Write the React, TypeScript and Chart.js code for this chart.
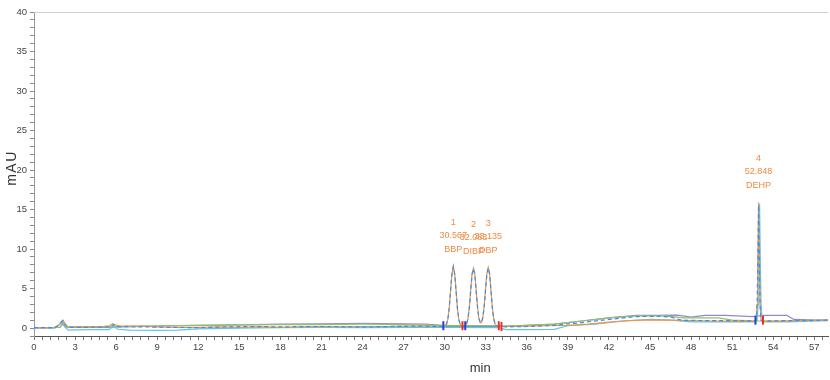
import React, { useEffect, useRef } from 'react';
import { Chart, registerables } from 'chart.js';

Chart.register(...registerables);

// Chromatogram traces: [minute, mAU]
const orangeTrace: [number, number][] = [
  [0, 0.05], [1.4, 0.05], [1.8, 0.35], [2.0, 0.85], [2.12, 1.0], [2.25, 0.6], [2.45, 0.15], [3, 0.2], [4, 0.2], [5, 0.2],
  [5.5, 0.3], [5.75, 0.55], [5.95, 0.4], [6.3, 0.25], [7, 0.25], [8, 0.25], [9, 0.15], [10.5, 0.1], [12, 0.1], [13.5, 0.15],
  [15, 0.1], [16.5, 0.15], [18, 0.1], [19.5, 0.15], [21, 0.2], [22.5, 0.15], [24, 0.2], [25.5, 0.2], [27, 0.25], [28.5, 0.25],
  [29.9, 0.2], [30.03, 0.25], [30.13, 0.5], [30.23, 1.1], [30.33, 2.5], [30.43, 4.8], [30.53, 6.9], [30.63, 7.85], [30.73, 6.9],
  [30.83, 4.8], [30.93, 2.5], [31.03, 1.1], [31.13, 0.5], [31.25, 0.25], [31.4, 0.2], [31.5, 0.3], [31.6, 0.5], [31.7, 1.2],
  [31.8, 2.6], [31.9, 4.8], [32.0, 6.9], [32.1, 7.6], [32.2, 6.9], [32.3, 4.8], [32.4, 2.6], [32.5, 1.2], [32.6, 0.7],
  [32.68, 0.7], [32.78, 1.3], [32.88, 2.6], [32.98, 4.8], [33.08, 6.9], [33.18, 7.7], [33.28, 6.9], [33.38, 4.8], [33.48, 2.6],
  [33.58, 1.2], [33.68, 0.5], [33.8, 0.3], [33.95, 0.2], [34.5, 0.2], [36, 0.25], [37.5, 0.3], [39, 0.35], [40.5, 0.5],
  [42, 0.75], [43.5, 0.95], [45, 1.05], [46.5, 1.0], [48, 0.95], [49.5, 0.9], [51, 0.85], [52.68, 0.85], [52.75, 1.0],
  [52.82, 3], [52.87, 8], [52.93, 15.9], [52.99, 8], [53.04, 3], [53.11, 1.0], [53.2, 0.85], [54.5, 0.85], [56, 0.95],
  [58, 1.0],
];

const blueTrace: [number, number][] = [
  [0, 0.05], [1.5, 0.05], [1.85, 0.4], [2.1, 0.95], [2.3, 0.4], [2.5, 0.1], [4, 0.1], [5.6, 0.15], [5.8, 0.45], [6.0, 0.2],
  [8, 0.15], [10, 0.1], [12, 0.05], [14, 0.15], [16, 0.2], [18, 0.15], [20, 0.2], [22, 0.2], [24, 0.15], [26, 0.2], [28, 0.25],
  [29.9, 0.2], [30.03, 0.25], [30.13, 0.5], [30.23, 1.1], [30.33, 2.5], [30.43, 4.7], [30.53, 6.8], [30.63, 7.75], [30.73, 6.8],
  [30.83, 4.7], [30.93, 2.5], [31.03, 1.1], [31.13, 0.5], [31.25, 0.25], [31.4, 0.2], [31.5, 0.3], [31.6, 0.5], [31.7, 1.2],
  [31.8, 2.6], [31.9, 4.7], [32.0, 6.8], [32.1, 7.5], [32.2, 6.8], [32.3, 4.7], [32.4, 2.6], [32.5, 1.2], [32.6, 0.7],
  [32.68, 0.7], [32.78, 1.3], [32.88, 2.6], [32.98, 4.7], [33.08, 6.8], [33.18, 7.6], [33.28, 6.8], [33.38, 4.7], [33.48, 2.6],
  [33.58, 1.2], [33.68, 0.5], [33.8, 0.3], [33.95, 0.2], [34.5, 0.15], [36, 0.2], [38, 0.35], [40, 0.7], [42, 1.1],
  [44, 1.45], [45.5, 1.5], [46.5, 1.4], [47.3, 1.0], [49, 0.95], [51, 0.95], [52.68, 0.9], [52.75, 1.0], [52.82, 2.9],
  [52.87, 7.8], [52.93, 15.5], [52.99, 7.8], [53.04, 2.9], [53.11, 1.0], [53.2, 0.9], [55, 0.95], [58, 1.0],
];

const cyanTrace: [number, number][] = [
  [0, 0], [1.5, 0], [1.9, 0.5], [2.1, 0.85], [2.3, 0.1], [2.5, -0.25], [4, -0.2], [5.5, -0.2], [5.8, 0.3], [6.1, -0.15],
  [7, -0.25], [9, -0.3], [10.5, -0.25], [12, -0.1], [15, 0], [18, 0.05], [21, 0.1], [24, 0.05], [27, 0.1], [29.8, 0.1],
  [33.9, 0.05], [34.5, -0.2], [36, -0.2], [38, -0.15], [39, 0.3], [41, 0.5], [43, 0.9], [45, 1.1], [46.5, 1.0], [48, 0.8],
  [50, 0.8], [52.75, 0.8], [52.82, 1.0], [52.89, 3], [52.94, 8], [53.0, 15.7], [53.06, 8], [53.11, 3], [53.18, 1.0],
  [53.26, 0.8], [55, 0.8], [58, 0.95],
];

const purpleTrace: [number, number][] = [
  [0, 0.05], [1.9, 0.1], [2.1, 0.6], [2.3, 0.1], [5, 0.1], [8, 0.2], [10, 0.3], [12, 0.35], [15, 0.4], [18, 0.5], [21, 0.55],
  [24, 0.6], [27, 0.55], [28.5, 0.5], [29.8, 0.35], [34, 0.2], [36, 0.35], [38, 0.5], [40, 0.9], [42, 1.3], [44, 1.6],
  [45.5, 1.6], [47, 1.65], [48, 1.4], [49, 1.6], [50.5, 1.6], [52.5, 1.45], [53.3, 1.6], [55, 1.6], [55.5, 1.1], [57, 1.0],
  [58, 1.0],
];

const greenTrace: [number, number][] = [
  [0, 0.05], [1.9, 0.1], [2.1, 0.5], [2.3, 0.1], [5, 0.15], [9, 0.3], [12, 0.35], [15, 0.4], [18, 0.45], [21, 0.45],
  [24, 0.5], [27, 0.45], [29.5, 0.35], [34, 0.25], [36, 0.35], [38, 0.5], [40, 0.9], [42, 1.3], [44, 1.55], [46, 1.55],
  [47.5, 1.3], [50, 1.3], [51, 1.0], [53, 0.9], [55, 0.9], [58, 1.0],
];

const integrationBaseline: [number, number][] = [[29.9, 0.2], [34.1, 0.25]];
const peakStartMarks: [number, number][] = [[29.9, 0.3], [31.5, 0.3], [52.7, 1.0]];
const peakEndMarks: [number, number][] = [[31.3, 0.3], [33.95, 0.3], [34.15, 0.2], [53.25, 1.0]];

// Peak annotations
const peakNumbers = ['1', '2', '3', '4'];
const peakRetentionLabels = ['30.567', '32.083', '33.135', '52.848'];
const peakNames = ['BBP', 'DIBP', 'DBP', 'DEHP'];
const peakApexTimes = [30.63, 32.1, 33.18, 52.93];
const peakApexHeights = [7.85, 7.6, 7.7, 15.9];

// Axes
const xMin = 0;
const xMax = 58;
const xMinorStep = 0.6;
const xLabelEvery = 3;
const yMin = -1;
const yMax = 40;
const yMinorStep = 1;
const yLabelEvery = 5;
const xTitle = 'min';
const yTitle = 'mAU';

const FONT = "'Liberation Sans Narrow', 'Liberation Sans', sans-serif";

const toXY = (arr: [number, number][]) => arr.map(([x, y]) => ({ x, y }));
const isMultiple = (v: number, m: number) => Math.abs(v / m - Math.round(v / m)) < 1e-6;

const decorations = {
  id: 'decorations',
  afterDraw(chart: any) {
    const { ctx, chartArea, scales } = chart;
    const xs = scales.x;
    const ys = scales.y;
    ctx.save();
    // top frame line
    ctx.strokeStyle = '#cfcfcf';
    ctx.lineWidth = 1;
    ctx.beginPath();
    ctx.moveTo(chartArea.left, Math.round(chartArea.top) + 0.5);
    ctx.lineTo(chartArea.right, Math.round(chartArea.top) + 0.5);
    ctx.stroke();

    // peak labels
    ctx.fillStyle = '#EE8A42';
    ctx.font = `9px ${FONT}`;
    ctx.textAlign = 'center';
    ctx.textBaseline = 'middle';
    peakApexTimes.forEach((t, i) => {
      const px = xs.getPixelForValue(t);
      const py = ys.getPixelForValue(peakApexHeights[i]);
      ctx.fillText(peakNames[i], px, py - 17);
      ctx.fillText(peakRetentionLabels[i], px, py - 30.5);
      ctx.fillText(peakNumbers[i], px, py - 44);
    });

    // axis titles
    ctx.fillStyle = '#333';
    ctx.font = `13px 'Liberation Sans', sans-serif`;
    ctx.fillText(xTitle, chartArea.left + (chartArea.right - chartArea.left) * 0.562, chart.height - 12);
    ctx.font = `14px 'Liberation Sans', sans-serif`;
    try { (ctx as any).letterSpacing = '1.5px'; } catch (e) { /* ignore */ }
    ctx.translate(12, (chartArea.top + chartArea.bottom) / 2 - 6);
    ctx.rotate(-Math.PI / 2);
    ctx.fillText(yTitle, 0, 0);
    try { (ctx as any).letterSpacing = '0px'; } catch (e) { /* ignore */ }
    ctx.restore();
  },
};

export default function App() {
  const canvasRef = useRef<HTMLCanvasElement | null>(null);

  useEffect(() => {
    if (!canvasRef.current) return;
    const line = (data: [number, number][], color: string, extra: any = {}) => ({
      type: 'line',
      data: toXY(data),
      borderColor: color,
      backgroundColor: color,
      borderWidth: 1.2,
      pointRadius: 0,
      tension: 0,
      fill: false,
      ...extra,
    });
    const marks = (data: [number, number][], color: string) => ({
      type: 'line',
      data: toXY(data),
      showLine: false,
      pointStyle: 'line',
      rotation: 90,
      pointRadius: 4.5,
      borderColor: color,
      backgroundColor: color,
      pointBorderWidth: 2,
      borderWidth: 2,
    });

    const chart = new Chart(canvasRef.current, {
      type: 'line',
      data: {
        datasets: [
          marks(peakStartMarks, '#2A3FD8'),
          marks(peakEndMarks, '#E8322B'),
          line(blueTrace, '#3B8FE8', { borderDash: [4, 3] }),
          line(orangeTrace, '#F39545'),
          line(cyanTrace, '#5CC6EA'),
          line(integrationBaseline, '#8C8C8C'),
          line(greenTrace, '#8DC26F'),
          line(purpleTrace, '#9C86C4'),
        ] as any,
      },
      options: {
        animation: false,
        responsive: false,
        maintainAspectRatio: false,
        events: [],
        layout: { autoPadding: false, padding: { top: 12, right: 2, left: 0, bottom: 0 } },
        plugins: { legend: { display: false }, tooltip: { enabled: false } },
        scales: {
          x: {
            type: 'linear',
            min: xMin,
            max: xMax,
            afterFit: (s: any) => { s.height = 44; s.paddingRight = 0; s.paddingLeft = 0; },
            border: { color: '#555', width: 1 },
            grid: { drawOnChartArea: false, drawTicks: true, tickLength: 4, tickColor: '#777' },
            ticks: {
              stepSize: xMinorStep,
              includeBounds: false,
              autoSkip: false,
              maxRotation: 0,
              padding: 2,
              color: '#444',
              font: { family: FONT, size: 9.5 },
              callback: (v: any) => (isMultiple(Number(v), xLabelEvery) ? String(Math.round(Number(v))) : ''),
            },
          },
          y: {
            type: 'linear',
            min: yMin,
            max: yMax,
            afterFit: (s: any) => { s.width = 34; },
            border: { color: '#999', width: 1 },
            grid: { drawOnChartArea: false, drawTicks: true, tickLength: 4, tickColor: '#888' },
            ticks: {
              stepSize: yMinorStep,
              includeBounds: false,
              autoSkip: false,
              padding: 3,
              color: '#444',
              font: { family: FONT, size: 9.5 },
              callback: (v: any) => (Number(v) >= 0 && isMultiple(Number(v), yLabelEvery) ? String(Math.round(Number(v))) : ''),
            },
          },
        },
      },
      plugins: [decorations],
    } as any);
    return () => chart.destroy();
  }, []);

  return (
    <div style={{ position: 'fixed', left: 0, top: 0, width: 830, height: 380, background: '#fff' }}>
      <canvas ref={canvasRef} width={830} height={380} style={{ display: 'block' }} />
    </div>
  );
}
